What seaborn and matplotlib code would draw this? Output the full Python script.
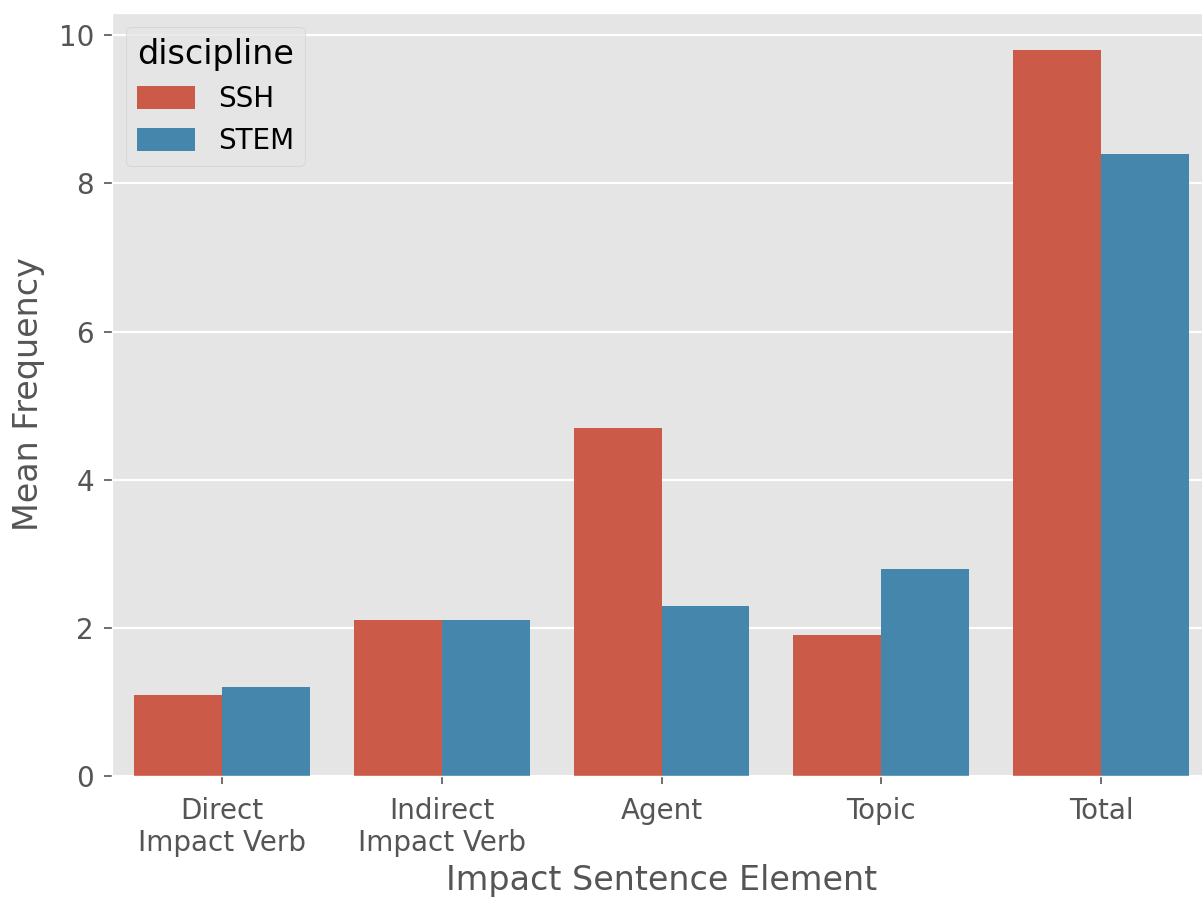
import matplotlib
matplotlib.use("Agg")
from matplotlib import pyplot as plt
import seaborn as sns
import pandas as pd

categories = ["Direct\nImpact Verb", "Indirect\nImpact Verb", "Agent", "Topic", "Total"]
ssh = [1.1, 2.1, 4.7, 1.9, 9.8]
stem = [1.2, 2.1, 2.3, 2.8, 8.4]
disciplines = ["SSH", "STEM"]

df = pd.DataFrame({
    "element": categories * 2,
    "freq": ssh + stem,
    "discipline": ["SSH"] * len(ssh) + ["STEM"] * len(stem),
})

plt.style.use("ggplot")
fig = plt.figure(figsize=(12.02, 8.98), dpi=100)
ax = fig.add_axes([112 / 1202, 1 - 776 / 898, 1099 / 1202, (776 - 13) / 898])

sns.barplot(data=df, x="element", y="freq", hue="discipline",
            hue_order=disciplines, palette=["#E24A33", "#348ABD"], ax=ax)

ax.set_ylim(0, 10.3)
ax.set_xlim(-0.5, 4.5)
ax.set_yticks([0, 2, 4, 6, 8, 10])
ax.grid(axis="y", linewidth=1.6)
ax.tick_params(labelsize=20, colors="#555555", length=6, width=1.2, pad=7)
ax.tick_params(axis="x", pad=9)
ax.set_xlabel("Impact Sentence Element", fontsize=24, color="#555555", labelpad=5)
ax.set_ylabel("Mean Frequency", fontsize=24, color="#555555", labelpad=10)

leg = ax.legend(title="discipline", loc="upper left", fontsize=20, title_fontsize=24,
                handlelength=2.1, handleheight=0.9, borderaxespad=0.5)

fig.savefig("out.png", dpi=100)
